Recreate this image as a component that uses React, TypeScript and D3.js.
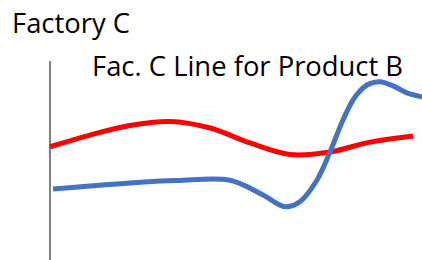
import React, { useEffect, useRef } from "react";
import * as d3 from "d3";

// x positions are in "period" units, values on an unlabeled 0-100 scale
const redX = [0, 4, 8, 12, 16, 20, 24, 28, 32, 36.3];
const redValues = [51.8, 58.3, 63.6, 65.8, 62.2, 53.9, 47.5, 48.9, 54.4, 57.8];

const blueX = [0.3, 4, 8, 12.7, 18, 21.3, 23.5, 25, 26.7, 28, 29.3, 30.5, 31.7, 33, 34.3, 35.7, 37.2];
const blueValues = [28.3, 30, 31.7, 33, 33.2, 25, 18.5, 21.3, 33.3, 48.9, 66.7, 79.4, 86.1, 87.9, 85.6, 81.7, 79.4];

const title = "Factory C";
const subtitle = "Fac. C Line for Product B";

const W = 422;
const H = 260;

export default function App() {
  const svgRef = useRef<SVGSVGElement>(null);

  useEffect(() => {
    const svg = d3.select(svgRef.current);
    svg.selectAll("*").remove();

    const x = d3.scaleLinear().domain([0, 37]).range([50, 420]);
    const y = d3.scaleLinear().domain([0, 100]).range([240, 60]);

    svg.append("rect").attr("width", W).attr("height", H).attr("fill", "#fff");

    // left axis line only
    svg.append("line")
      .attr("x1", x(0)).attr("x2", x(0))
      .attr("y1", y(100) + 1).attr("y2", H)
      .attr("stroke", "#595959")
      .attr("stroke-width", 1.5);

    const font = "'Open Sans', 'Noto Sans', sans-serif";

    svg.append("text")
      .attr("x", 12).attr("y", 33)
      .attr("font-family", font)
      .attr("font-size", 27.4)
      .attr("fill", "#000")
      .text(title);

    svg.append("text")
      .attr("x", 92).attr("y", 76)
      .attr("font-family", font)
      .attr("font-size", 27.4)
      .attr("fill", "#000")
      .text(subtitle);

    const line = d3.line<[number, number]>()
      .x(d => x(d[0]))
      .y(d => y(d[1]))
      .curve(d3.curveCatmullRom.alpha(0.5));

    const red = redX.map((d, i) => [d, redValues[i]] as [number, number]);
    const blue = blueX.map((d, i) => [d, blueValues[i]] as [number, number]);

    svg.append("path")
      .datum(red)
      .attr("fill", "none")
      .attr("stroke", "#ff0000")
      .attr("stroke-width", 5)
      .attr("d", line);

    svg.append("path")
      .datum(blue)
      .attr("fill", "none")
      .attr("stroke", "#4472c4")
      .attr("stroke-width", 5)
      .attr("d", line);
  }, []);

  return (
    <div style={{ position: "fixed", left: 0, top: 0 }}>
      <svg ref={svgRef} width={W} height={H} style={{ display: "block" }} />
    </div>
  );
}
